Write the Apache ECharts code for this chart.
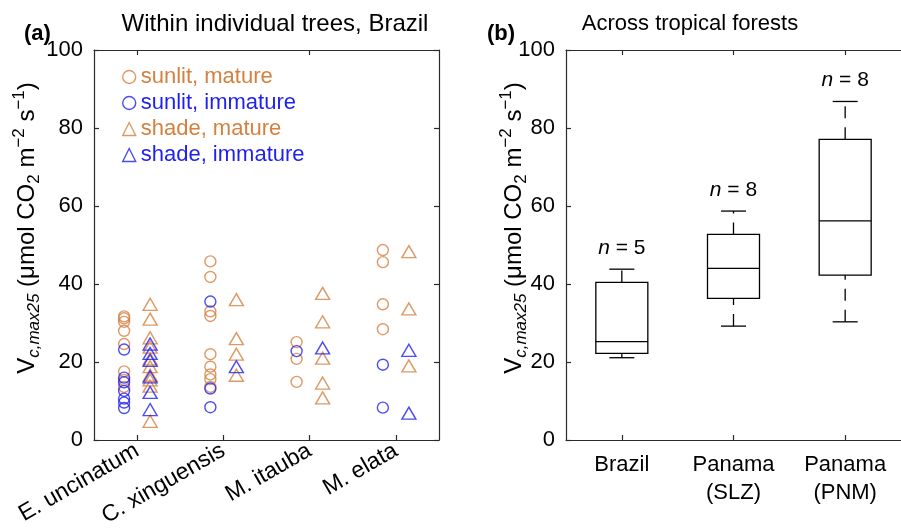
<!DOCTYPE html>
<html>
<head>
<meta charset="utf-8">
<script src="https://cdn.jsdelivr.net/npm/echarts@6/dist/echarts.min.js"></script>
<style>
  html, body { margin: 0; padding: 0; background: #fff; }
  #chart { width: 901px; height: 531px; }
</style>
</head>
<body>
<div id="chart"></div>
<script>
// species (panel a)
const species = ['E. uncinatum', 'C. xinguensis', 'M. itauba', 'M. elata'];
// values per species
const sunlitMature = [
  [31.7, 31.2, 30.3, 28.0, 24.6, 17.6, 15.4, 13.6],
  [45.8, 41.8, 33.0, 31.8, 22.0, 18.8, 16.8, 15.6, 13.6],
  [25.1, 20.8, 14.9],
  [48.7, 45.6, 34.8, 28.4]
];
const sunlitImmature = [
  [23.2, 16.0, 14.8, 12.6, 10.6, 9.6, 8.2],
  [35.5, 13.2, 8.4],
  [22.8],
  [19.3, 8.3]
];
const shadeMature = [
  [34.8, 31.0, 26.2, 23.8, 20.8, 18.8, 16.6, 15.4, 13.8, 4.8],
  [36.0, 26.0, 22.0, 16.6],
  [37.6, 30.3, 21.0, 14.6, 10.8],
  [48.3, 33.6, 19.0]
];
const shadeImmature = [
  [24.6, 22.2, 20.4, 16.2, 12.2, 7.8],
  [18.8],
  [23.6],
  [23.0, 6.9]
];

// box plots (panel b)
const sites = ['Brazil', 'Panama\n(SLZ)', 'Panama\n(PNM)'];
const boxLow = [21.1, 29.2, 30.3];
const boxQ1 = [22.2, 36.3, 42.3];
const boxMed = [25.2, 44.0, 56.2];
const boxQ3 = [40.4, 52.7, 77.1];
const boxHigh = [43.8, 58.7, 86.8];
const boxN = [5, 8, 8];

const yTicks = [0, 20, 40, 60, 80, 100];

const ORANGE = '#D4803E';
const BLUE = '#1F1FF0';
const AXIS = '#2a2a2a';
const FONT = 'Liberation Sans, Arial, Helvetica, sans-serif';

const toPts = arr => arr.flatMap((vals, i) => vals.map(v => [i, v]));

const boxData = sites.map((s, i) => [i, boxLow[i], boxQ1[i], boxMed[i], boxQ3[i], boxHigh[i], boxN[i]]);

function yAxisCfg(grid, pos, showLabel) {
  return {
    type: 'value', gridIndex: grid, position: pos,
    min: 0, max: 100, interval: 20,
    axisLine: { show: true, onZero: false, lineStyle: { color: AXIS, width: 1.2 } },
    axisTick: { show: true, inside: true, length: 5, lineStyle: { color: AXIS, width: 1.2 } },
    axisLabel: { show: showLabel, fontSize: 22, color: '#000', fontFamily: FONT, margin: 11,
      formatter: v => (yTicks.indexOf(v) >= 0 ? String(v) : '') },
    splitLine: { show: false }
  };
}

function xAxisCfg(grid, pos, data, label) {
  return {
    type: 'category', gridIndex: grid, position: pos, data: data,
    axisLine: { show: true, onZero: false, lineStyle: { color: AXIS, width: 1.2 } },
    axisTick: { show: true, inside: true, alignWithLabel: true, length: 5, lineStyle: { color: AXIS, width: 1.2 } },
    axisLabel: label || { show: false },
    splitLine: { show: false }
  };
}

const yRich = {
  v: { fontSize: 24, fontFamily: FONT, lineHeight: 32 },
  s: { fontSize: 17, fontFamily: FONT, fontStyle: 'italic', verticalAlign: 'bottom', lineHeight: 19 },
  n: { fontSize: 17, fontFamily: FONT, verticalAlign: 'bottom', lineHeight: 19 },
  p: { fontSize: 17, fontFamily: FONT, verticalAlign: 'top', lineHeight: 19 },
  r: { fontSize: 24, fontFamily: FONT, lineHeight: 32 }
};
const yLabel = '{v|V}{s|c,max25}{r| (μmol CO}{n|2}{r| m}{p|−2}{r| s}{p|−1}{r|)}';

var myChart = echarts.init(document.getElementById('chart'));

let option = {
  animation: false,
  backgroundColor: '#fff',
  textStyle: { fontFamily: FONT },
  grid: [
    { left: 94, top: 50, width: 345, height: 390 },
    { left: 566, top: 50, width: 346.5, height: 390 }
  ],
  xAxis: [
    xAxisCfg(0, 'bottom', species, {
      show: true, rotate: 30, margin: 9, fontSize: 23, color: '#000', fontFamily: FONT
    }),
    xAxisCfg(0, 'top', species),
    xAxisCfg(1, 'bottom', sites, {
      show: true, margin: 11, fontSize: 22, lineHeight: 28, color: '#000', fontFamily: FONT
    }),
    xAxisCfg(1, 'top', sites)
  ],
  yAxis: [
    yAxisCfg(0, 'left', true),
    yAxisCfg(0, 'right', false),
    yAxisCfg(1, 'left', true)
  ],
  legend: {
    left: 117, top: 61, orient: 'vertical',
    itemWidth: 13, itemHeight: 13, itemGap: 4,
    textStyle: { fontSize: 22, fontFamily: FONT },
    data: [
      { name: 'sunlit, mature', icon: 'circle', itemStyle: { color: 'rgba(0,0,0,0)', borderColor: ORANGE, borderWidth: 1.4 }, textStyle: { color: ORANGE } },
      { name: 'sunlit, immature', icon: 'circle', itemStyle: { color: 'rgba(0,0,0,0)', borderColor: BLUE, borderWidth: 1.4 }, textStyle: { color: BLUE } },
      { name: 'shade, mature', icon: 'triangle', itemStyle: { color: 'rgba(0,0,0,0)', borderColor: ORANGE, borderWidth: 1.4 }, textStyle: { color: ORANGE } },
      { name: 'shade, immature', icon: 'triangle', itemStyle: { color: 'rgba(0,0,0,0)', borderColor: BLUE, borderWidth: 1.4 }, textStyle: { color: BLUE } }
    ]
  },
  graphic: [
    { type: 'text', x: 24, y: 34, style: { text: '(a)', font: 'bold 22px ' + FONT, fill: '#000', verticalAlign: 'middle' } },
    { type: 'text', x: 275, y: 24, style: { text: 'Within individual trees, Brazil', font: '24px ' + FONT, fill: '#000', align: 'center', verticalAlign: 'middle' } },
    { type: 'text', x: 487, y: 34, style: { text: '(b)', font: 'bold 22px ' + FONT, fill: '#000', verticalAlign: 'middle' } },
    { type: 'text', x: 690, y: 24, style: { text: 'Across tropical forests', font: '22px ' + FONT, fill: '#000', align: 'center', verticalAlign: 'middle' } },
    { type: 'text', x: 27, y: 228, rotation: Math.PI / 2, style: { text: yLabel, rich: yRich, fill: '#000', align: 'center', verticalAlign: 'middle' } },
    { type: 'text', x: 514, y: 228, rotation: Math.PI / 2, style: { text: yLabel, rich: yRich, fill: '#000', align: 'center', verticalAlign: 'middle' } }
  ],
  series: [
    {
      name: 'sunlit, mature', type: 'scatter', xAxisIndex: 0, yAxisIndex: 0,
      symbol: 'circle', symbolSize: 11, symbolOffset: [-13, 0],
      itemStyle: { color: 'rgba(0,0,0,0)', borderColor: ORANGE, borderWidth: 1.4 },
      data: toPts(sunlitMature)
    },
    {
      name: 'sunlit, immature', type: 'scatter', xAxisIndex: 0, yAxisIndex: 0,
      symbol: 'circle', symbolSize: 11, symbolOffset: [-13, 0],
      itemStyle: { color: 'rgba(0,0,0,0)', borderColor: BLUE, borderWidth: 1.4 },
      data: toPts(sunlitImmature)
    },
    {
      name: 'shade, mature', type: 'scatter', xAxisIndex: 0, yAxisIndex: 0,
      symbol: 'triangle', symbolSize: [14, 12], symbolOffset: [13, 0],
      itemStyle: { color: 'rgba(0,0,0,0)', borderColor: ORANGE, borderWidth: 1.4 },
      data: toPts(shadeMature)
    },
    {
      name: 'shade, immature', type: 'scatter', xAxisIndex: 0, yAxisIndex: 0,
      symbol: 'triangle', symbolSize: [14, 12], symbolOffset: [13, 0],
      itemStyle: { color: 'rgba(0,0,0,0)', borderColor: BLUE, borderWidth: 1.4 },
      data: toPts(shadeImmature)
    },
    {
      type: 'custom', xAxisIndex: 2, yAxisIndex: 2,
      encode: { x: 0, y: [1, 5] },
      data: boxData,
      renderItem: function (params, api) {
        const i = api.value(0);
        const cx = api.coord([i, 0])[0];
        const yLow = api.coord([i, api.value(1)])[1];
        const yQ1 = api.coord([i, api.value(2)])[1];
        const yMed = api.coord([i, api.value(3)])[1];
        const yQ3 = api.coord([i, api.value(4)])[1];
        const yHigh = api.coord([i, api.value(5)])[1];
        const hw = 26, cw = 12.5;
        const ls = { stroke: '#000', lineWidth: 1.3, fill: null };
        const dash = { stroke: '#000', lineWidth: 1.3, lineDash: [12, 9] };
        return {
          type: 'group',
          children: [
            { type: 'rect', shape: { x: cx - hw, y: yQ3, width: hw * 2, height: yQ1 - yQ3 }, style: ls },
            { type: 'line', shape: { x1: cx - hw, y1: yMed, x2: cx + hw, y2: yMed }, style: ls },
            { type: 'line', shape: { x1: cx, y1: yLow, x2: cx, y2: yQ1 }, style: dash },
            { type: 'line', shape: { x1: cx, y1: yQ3, x2: cx, y2: yHigh }, style: dash },
            { type: 'line', shape: { x1: cx - cw, y1: yLow, x2: cx + cw, y2: yLow }, style: ls },
            { type: 'line', shape: { x1: cx - cw, y1: yHigh, x2: cx + cw, y2: yHigh }, style: ls },
            {
              type: 'text', x: cx, y: yHigh - 21,
              style: {
                text: '{i|n} = ' + api.value(6),
                rich: { i: { fontStyle: 'italic', fontSize: 21, fontFamily: FONT } },
                fontSize: 21, fontFamily: FONT, fill: '#000', align: 'center', verticalAlign: 'middle'
              }
            }
          ]
        };
      }
    }
  ]
};

myChart.setOption(option);
</script>
</body>
</html>
